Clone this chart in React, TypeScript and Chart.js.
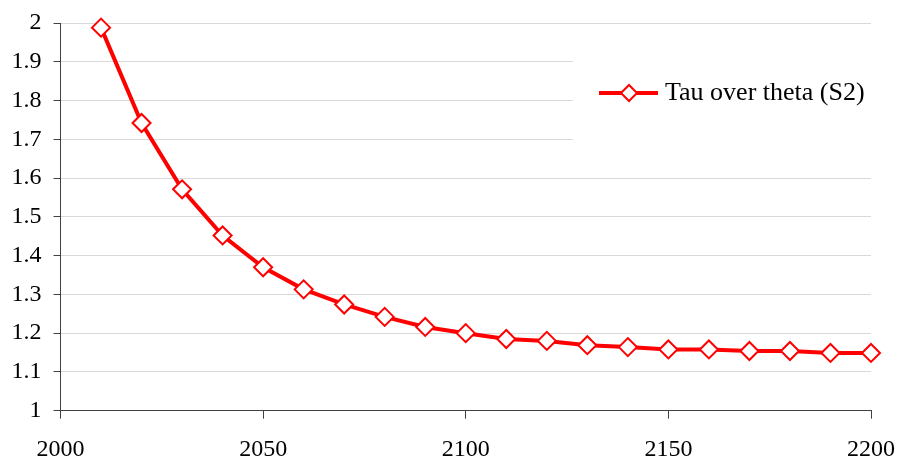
import React, { useEffect, useRef } from "react";
import { Chart, registerables } from "chart.js";

Chart.register(...registerables);

const years = [2010, 2020, 2030, 2040, 2050, 2060, 2070, 2080, 2090, 2100, 2110, 2120, 2130, 2140, 2150, 2160, 2170, 2180, 2190, 2200];
const tauOverTheta = [1.988, 1.742, 1.571, 1.452, 1.370, 1.313, 1.274, 1.242, 1.216, 1.200, 1.185, 1.180, 1.169, 1.164, 1.158, 1.158, 1.154, 1.154, 1.149, 1.149];
const seriesLabel = "Tau over theta (S2)";
const xMin = 2000;
const xMax = 2200;
const xStep = 50;
const yMin = 1;
const yMax = 2;
const yStep = 0.1;

const FONT = "'Liberation Serif', 'Times New Roman', serif";
const RED = "#ff0000";

const legendPlugin = {
  id: "customLegend",
  afterDraw(chart: any) {
    const ctx = chart.ctx;
    ctx.save();
    ctx.fillStyle = "#ffffff";
    ctx.fillRect(573, 44, 324, 116);
    const ly = 93;
    ctx.strokeStyle = RED;
    ctx.lineWidth = 4;
    ctx.beginPath();
    ctx.moveTo(599, ly);
    ctx.lineTo(658, ly);
    ctx.stroke();
    const cx = 629;
    const r = 8;
    ctx.beginPath();
    ctx.moveTo(cx - r, ly);
    ctx.lineTo(cx, ly - r);
    ctx.lineTo(cx + r, ly);
    ctx.lineTo(cx, ly + r);
    ctx.closePath();
    ctx.fillStyle = "#ffffff";
    ctx.fill();
    ctx.lineWidth = 2;
    ctx.stroke();
    ctx.fillStyle = "#000000";
    ctx.font = `26px ${FONT}`;
    ctx.textBaseline = "middle";
    ctx.textAlign = "left";
    ctx.fillText(seriesLabel, 665, ly);
    ctx.restore();
  },
};

export default function App() {
  const ref = useRef<HTMLCanvasElement | null>(null);
  useEffect(() => {
    document.body.style.margin = "0";
    const canvas = ref.current;
    if (!canvas) return;
    const chart = new Chart(canvas, {
      type: "line",
      data: {
        datasets: [
          {
            label: seriesLabel,
            data: years.map((x, i) => ({ x, y: tauOverTheta[i] })),
            borderColor: RED,
            borderWidth: 4,
            backgroundColor: "#ffffff",
            pointStyle: "rectRot",
            pointRadius: 9,
            pointBorderWidth: 2,
            pointBorderColor: RED,
            pointBackgroundColor: "#ffffff",
            tension: 0,
            clip: false,
          },
        ],
      },
      options: {
        responsive: false,
        animation: false,
        events: [],
        layout: { padding: { top: 23, right: 26, left: 0, bottom: 0 } },
        plugins: { legend: { display: false }, tooltip: { enabled: false } },
        scales: {
          x: {
            type: "linear",
            min: xMin,
            max: xMax,
            afterFit: (s: any) => {
              s.height = 50.3;
              s.paddingLeft = 0;
              s.paddingRight = 0;
            },
            ticks: {
              stepSize: xStep,
              color: "#000000",
              font: { family: FONT, size: 24 },
              padding: 17,
              maxRotation: 0,
              callback: (v: any) => String(v),
            },
            grid: {
              display: true,
              drawOnChartArea: false,
              drawTicks: true,
              tickLength: 8,
              tickColor: "#404040",
            },
            border: { color: "#404040", width: 1 },
          },
          y: {
            type: "linear",
            min: yMin,
            max: yMax,
            afterFit: (s: any) => {
              s.width = 60.5;
              s.paddingTop = 0;
              s.paddingBottom = 0;
            },
            ticks: {
              stepSize: yStep,
              color: "#000000",
              font: { family: FONT, size: 24 },
              padding: 12,
              callback: (v: any) => String(Number(Number(v).toFixed(1))),
            },
            grid: {
              color: "#d9d9d9",
              lineWidth: 1,
              tickLength: 7,
              tickColor: "#404040",
            },
            border: { color: "#404040", width: 1 },
          },
        },
      },
      plugins: [legendPlugin],
    });
    return () => chart.destroy();
  }, []);
  return <canvas ref={ref} width={897} height={461} style={{ display: "block" }} />;
}
